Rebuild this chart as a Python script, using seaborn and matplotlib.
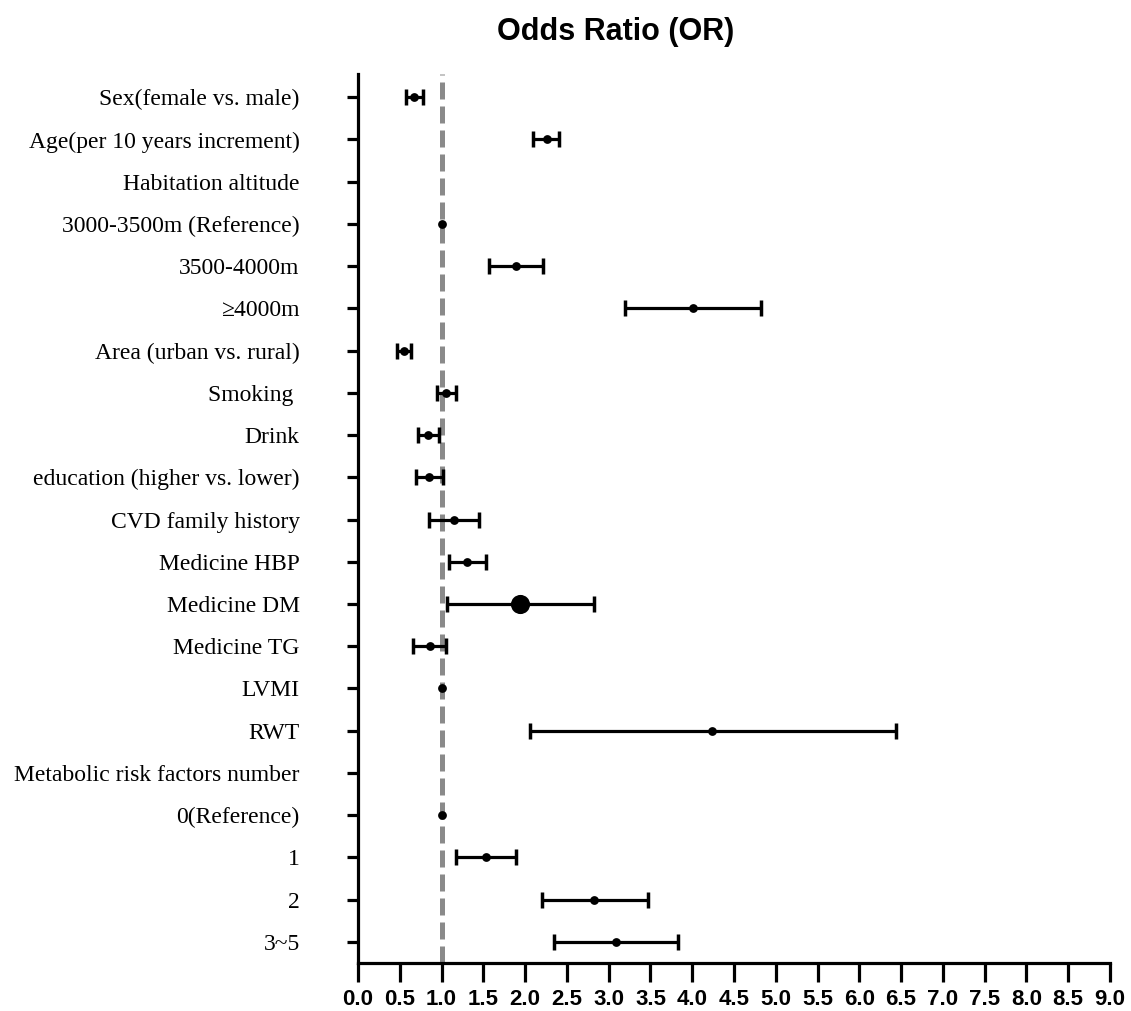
import numpy as np
import pandas as pd
import seaborn as sns
import matplotlib
matplotlib.use("Agg")
import matplotlib.pyplot as plt

# ---------------- data ----------------
labels = ["Sex(female vs. male)", "Age(per 10 years increment)", "Habitation altitude",
          "3000-3500m (Reference)", "3500-4000m", "\u22654000m", "Area (urban vs. rural)",
          "Smoking ", "Drink", "education (higher vs. lower)", "CVD family history",
          "Medicine HBP", "Medicine DM", "Medicine TG", "LVMI", "RWT",
          "Metabolic risk factors number", "0(Reference)", "1", "2", "3~5"]
odds_ratio = [0.67, 2.26, np.nan, 1.00, 1.89, 4.01, 0.55, 1.05, 0.84, 0.85, 1.15,
              1.31, 1.94, 0.86, 1.01, 4.24, np.nan, 1.00, 1.53, 2.83, 3.09]
ci_low = [0.57, 2.10, np.nan, np.nan, 1.57, 3.19, 0.47, 0.94, 0.72, 0.69, 0.85,
          1.09, 1.07, 0.66, np.nan, 2.06, np.nan, np.nan, 1.17, 2.20, 2.35]
ci_high = [0.78, 2.41, np.nan, np.nan, 2.21, 4.82, 0.64, 1.17, 0.97, 1.02, 1.45,
           1.53, 2.82, 1.05, np.nan, 6.44, np.nan, np.nan, 1.89, 3.47, 3.83]
x_ticks = [0.0, 0.5, 1.0, 1.5, 2.0, 2.5, 3.0, 3.5, 4.0, 4.5, 5.0, 5.5, 6.0, 6.5,
           7.0, 7.5, 8.0, 8.5, 9.0]
highlight = "Medicine DM"
title = "Odds Ratio (OR)"

df = pd.DataFrame({"label": labels, "OR": odds_ratio, "lo": ci_low, "hi": ci_high})
df["pos"] = np.arange(len(df))

# ---------------- style ----------------
sns.set_theme(style="ticks")
plt.rcParams["font.family"] = ["Liberation Serif", "DejaVu Serif"]
plt.rcParams["text.color"] = "black"

W, H = 1131, 1011
fig = plt.figure(figsize=(W / 100, H / 100), dpi=100)
ax = fig.add_axes([358 / W, 1 - 963 / H, (1110 - 358) / W, (963 - 74) / H])

# reference line
ax.axvline(1.0, color="#8a8a8a", lw=3.6, dashes=(3.4, 1.4), zorder=1)

# confidence intervals
ci = df.dropna(subset=["lo", "hi"])
ax.errorbar(ci["OR"], ci["pos"],
            xerr=[ci["OR"] - ci["lo"], ci["hi"] - ci["OR"]],
            fmt="none", ecolor="black", elinewidth=2.3, capsize=5.5, capthick=2.5,
            zorder=2)

# point estimates
pts = df.dropna(subset=["OR"])
normal = pts[pts["label"] != highlight]
big = pts[pts["label"] == highlight]
sns.scatterplot(data=normal, x="OR", y="pos", color="black", s=40, edgecolor="black",
                linewidth=0, ax=ax, zorder=3, legend=False)
sns.scatterplot(data=big, x="OR", y="pos", color="black", s=190, edgecolor="black",
                linewidth=0, ax=ax, zorder=3, legend=False)

# axes
ax.set_xlim(0, 9)
ax.set_ylim(20.5, -0.55)
ax.set_xticks(x_ticks)
ax.set_xticklabels([f"{t:.1f}" for t in x_ticks], fontfamily="Liberation Sans",
                   fontweight="bold", fontsize=16)
ax.set_yticks(df["pos"])
ax.set_yticklabels(df["label"], fontsize=17)
ax.set_xlabel("")
ax.set_ylabel("")
for side in ["top", "right"]:
    ax.spines[side].set_visible(False)
for side in ["left", "bottom"]:
    ax.spines[side].set_linewidth(2.3)
    ax.spines[side].set_color("black")
ax.tick_params(axis="x", length=13.5, width=2.3, pad=5, colors="black")
ax.tick_params(axis="y", length=8, width=2.3, pad=34, colors="black")

fig.text(616 / W, 1 - 40 / H, title, ha="center", va="baseline", color="black",
         fontfamily="Liberation Sans", fontweight="bold", fontsize=22)

fig.savefig("out.png", dpi=100)
